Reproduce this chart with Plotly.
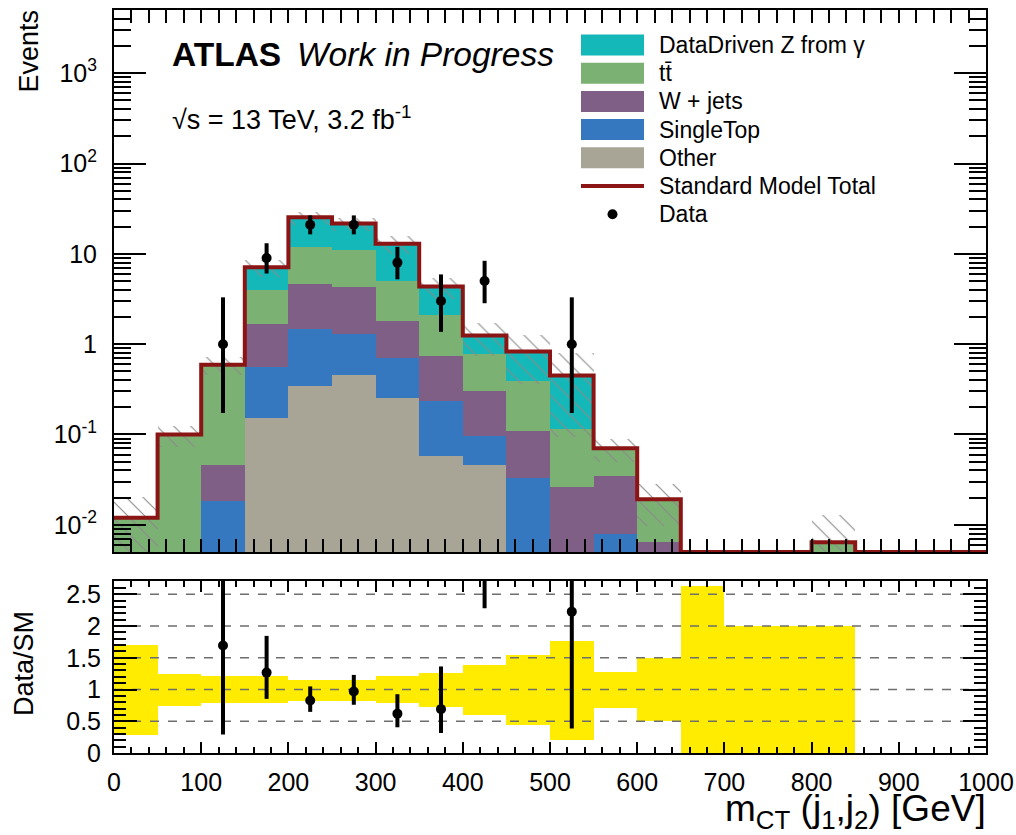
import numpy as np
import plotly.graph_objects as go

# ---------------------------------------------------------------------------
# m_CT(j1,j2) distribution, 50 GeV bins from 0 to 1000 GeV
# ---------------------------------------------------------------------------
bin_edges = np.arange(0, 1001, 50)
bin_centres = 0.5 * (bin_edges[:-1] + bin_edges[1:])

# Expected events per bin for each background (stacked bottom -> top)
other      = [0, 0, 0, 0.154, 0.348, 0.457, 0.256, 0.058, 0.046, 0,
              0, 0, 0, 0, 0, 0, 0, 0, 0, 0]
single_top = [0, 0, 0.0185, 0.411, 1.11, 0.843, 0.454, 0.177, 0.051, 0.0327,
              0, 0.0079, 0, 0, 0, 0, 0, 0, 0, 0]
w_jets     = [0, 0, 0.0275, 1.10, 3.23, 3.01, 1.10, 0.507, 0.209, 0.0753,
              0.0265, 0.0272, 0.0065, 0, 0, 0, 0, 0, 0, 0]
ttbar      = [0.012, 0.10, 0.544, 2.33, 7.21, 6.65, 3.25, 1.37, 0.467, 0.284,
              0.0885, 0.0354, 0.0127, 0, 0, 0, 0.0064, 0, 0, 0]
z_gamma    = [0, 0, 0, 3.11, 13.5, 10.7, 7.84, 2.23, 0.472, 0.436,
              0.334, 0, 0, 0, 0, 0, 0, 0, 0, 0]

# Observed events and their 68% Poisson interval
data    = [None, None, 1, 9, 21, 21, 8, 3, 5, None,
           1, None, None, None, None, None, None, None, None, None]
data_lo = [None, None, 0.173, 6.06, 16.46, 16.46, 5.23, 1.37, 2.84, None,
           0.173, None, None, None, None, None, None, None, None, None]
data_hi = [None, None, 3.30, 13.11, 26.65, 26.65, 11.95, 5.92, 8.38, None,
           3.30, None, None, None, None, None, None, None, None, None]

# Relative uncertainty on the SM total (lower / upper edge of the band)
unc_lo = [0.29, 0.735, 0.78, 0.78, 0.82, 0.82, 0.78, 0.725, 0.595, 0.44,
          0.21, 0.71, 0.50, 0.0, 0.0, 0.0, 0.0, None, None, None]
unc_hi = [1.70, 1.24, 1.21, 1.21, 1.155, 1.155, 1.21, 1.26, 1.38, 1.54,
          1.76, 1.27, 1.49, 2.63, 2.0, 2.0, 2.0, None, None, None]

# Axis tick values
decades = [0.01, 0.1, 1, 10, 100, 1000]
decade_labels = ["10<sup>-2</sup>", "10<sup>-1</sup>", "1", "10",
                 "10<sup>2</sup>", "10<sup>3</sup>"]
ratio_ticks = [0, 0.5, 1, 1.5, 2, 2.5]
ratio_labels = ["0", "0.5", "1", "1.5", "2", "2.5"]

# ---------------------------------------------------------------------------
W, H = 1016, 835
FONT = "Liberation Sans, Arial, Helvetica, sans-serif"

COL_Z = "#14b8b8"
COL_TT = "#7cb174"
COL_W = "#7f5f85"
COL_ST = "#3678c0"
COL_OTHER = "#a8a596"
COL_SM = "#8b1414"
COL_BAND = "#ffec00"

Y_MIN_LOG, Y_MAX_LOG = np.log10(0.005), 3.70


def px_x(p):
    return p / W


def px_y(p):
    return 1 - p / H


stack = np.array([other, single_top, w_jets, ttbar, z_gamma], dtype=float)
cumulative = np.cumsum(stack, axis=0)
total = cumulative[-1]

fig = go.Figure()

# stacked backgrounds drawn as overlaid cumulative bars (top layer first)
layers = [(cumulative[4], COL_Z), (cumulative[3], COL_TT), (cumulative[2], COL_W),
          (cumulative[1], COL_ST), (cumulative[0], COL_OTHER)]
for values, colour in layers:
    vals = [v if v > 0 else None for v in values]
    fig.add_trace(go.Bar(x=bin_centres, y=vals, width=50, marker_color=colour,
                         marker_line_width=0, opacity=1, xaxis="x", yaxis="y",
                         showlegend=False, hoverinfo="skip"))

# hatched SM uncertainty band
hb_base, hb_h, hb_x = [], [], []
for c, t, lo, hi in zip(bin_centres, total, unc_lo, unc_hi):
    if t > 0 and lo is not None:
        hb_x.append(c)
        hb_base.append(t * lo)
        hb_h.append(t * (hi - lo))
fig.add_trace(go.Bar(x=hb_x, y=hb_h, base=hb_base, width=50,
                     marker=dict(color="rgba(0,0,0,0)", line_width=0,
                                 pattern=dict(shape="\\", fgcolor="#8a8a8a",
                                              bgcolor="rgba(0,0,0,0)",
                                              size=12, solidity=0.09,
                                              fillmode="replace")),
                     xaxis="x", yaxis="y", showlegend=False, hoverinfo="skip"))

# SM total as a step line
floor = 10 ** Y_MIN_LOG
step_y = [t if t > 0 else floor for t in total]
step_y = step_y + [step_y[-1]]
fig.add_trace(go.Scatter(x=bin_edges, y=step_y, mode="lines", line_shape="hv",
                         line=dict(color=COL_SM, width=4), xaxis="x", yaxis="y",
                         showlegend=False, hoverinfo="skip"))

# data points
dx, dy, dep, dem = [], [], [], []
rx, ry, rep, rem = [], [], [], []
for c, n, lo, hi, t in zip(bin_centres, data, data_lo, data_hi, total):
    if n is None:
        continue
    dx.append(c)
    dy.append(n)
    dep.append(hi - n)
    dem.append(n - lo)
    rx.append(c)
    ry.append(n / t)
    rep.append((hi - n) / t)
    rem.append((n - lo) / t)

fig.add_trace(go.Scatter(x=dx, y=dy, mode="markers",
                         marker=dict(color="black", size=10),
                         error_y=dict(type="data", array=dep, arrayminus=dem,
                                      color="black", thickness=4, width=0),
                         xaxis="x", yaxis="y", showlegend=False, hoverinfo="skip"))

# ---------------- ratio panel ----------------
rb_x, rb_base, rb_h = [], [], []
for c, lo, hi in zip(bin_centres, unc_lo, unc_hi):
    if lo is not None:
        rb_x.append(c)
        rb_base.append(lo)
        rb_h.append(hi - lo)
fig.add_trace(go.Bar(x=rb_x, y=rb_h, base=rb_base, width=50,
                     marker_color=COL_BAND, marker_line_width=0, opacity=1,
                     xaxis="x2", yaxis="y2", showlegend=False, hoverinfo="skip"))

for level in ratio_ticks[1:]:
    fig.add_trace(go.Scatter(x=[0, 1000], y=[level, level], mode="lines",
                             line=dict(color="#6e6e6e", width=1.5, dash="dash"),
                             xaxis="x2", yaxis="y2", showlegend=False,
                             hoverinfo="skip"))

fig.add_trace(go.Scatter(x=rx, y=ry, mode="markers",
                         marker=dict(color="black", size=10),
                         error_y=dict(type="data", array=rep, arrayminus=rem,
                                      color="black", thickness=4, width=0),
                         xaxis="x2", yaxis="y2", showlegend=False, hoverinfo="skip"))

# ---------------- axes ----------------
x_dom = [px_x(114), px_x(986)]
main_dom = [px_y(552), px_y(10)]
ratio_dom = [px_y(753), px_y(581)]

common_x = dict(range=[0, 1000], domain=x_dom, showgrid=False, zeroline=False,
                automargin=False, layer="above traces",
                showline=True, linecolor="black", linewidth=2, mirror="allticks",
                ticks="inside", tickcolor="black", tickwidth=2, dtick=100, tick0=0,
                minor=dict(ticks="inside", ticklen=6, tickwidth=2, dtick=20,
                           tickcolor="black", showgrid=False))

# short ticks at every 1..9 x 10^k, long ticks (with labels) at the decades
log_ticks = [float(f"{m * 10.0 ** e:.6g}") for e in range(-3, 4) for m in range(1, 10)]
log_labels = [decade_labels[decades.index(v)] if v in decades else "" for v in log_ticks]

fig.update_layout(
    template="none",
    width=W, height=H, autosize=False, margin=dict(l=0, r=0, t=0, b=0, pad=0),
    paper_bgcolor="white", plot_bgcolor="white",
    barmode="overlay", bargap=0,
    font=dict(family=FONT, color="black", size=24),
    showlegend=False,
    xaxis=dict(**common_x, anchor="y", ticklen=13, showticklabels=False),
    yaxis=dict(type="log", range=[Y_MIN_LOG, Y_MAX_LOG], domain=main_dom,
               anchor="x", showgrid=False, zeroline=False, showline=True,
               automargin=False, layer="above traces",
               linecolor="black", linewidth=2, mirror="allticks",
               ticks="inside", ticklen=17, tickwidth=2, tickcolor="black",
               tickmode="array", tickvals=log_ticks, ticktext=log_labels,
               tickfont=dict(size=25), ticklabelstandoff=10),
    yaxis3=dict(type="log", range=[Y_MIN_LOG, Y_MAX_LOG], domain=main_dom,
                anchor="x", overlaying="y", side="left", showgrid=False,
                zeroline=False, showline=False, automargin=False,
                layer="above traces",
                mirror="allticks", ticks="inside", ticklen=32, tickwidth=2,
                tickcolor="black", tickmode="array", tickvals=decades,
                showticklabels=False),
    xaxis2=dict(**common_x, anchor="y2", ticklen=11, showticklabels=True,
                tickfont=dict(size=25), ticklabelstandoff=6),
    yaxis2=dict(range=[0, 2.71], domain=ratio_dom, anchor="x2", showgrid=False,
                automargin=False, layer="above traces",
                zeroline=False, showline=True, linecolor="black", linewidth=2,
                mirror="allticks", ticks="inside", ticklen=23, tickwidth=2,
                tickcolor="black", tickmode="array",
                tickvals=ratio_ticks, ticktext=ratio_labels,
                tickfont=dict(size=25), ticklabelstandoff=6,
                minor=dict(ticks="inside", ticklen=12, tickwidth=2, dtick=0.1,
                           tick0=0, tickcolor="black", showgrid=False)),
)

# invisible trace so the decade-tick axis is drawn
fig.add_trace(go.Scatter(x=[None], y=[None], xaxis="x", yaxis="y3",
                         showlegend=False, hoverinfo="skip"))


def note(x, y, text, size, xanchor="left", yanchor="middle", angle=0):
    return dict(x=px_x(x), y=px_y(y), xref="paper", yref="paper", text=text,
                font=dict(size=size), xanchor=xanchor, yanchor=yanchor,
                textangle=angle, showarrow=False)


annotations = [
    note(170, 55, "<b>ATLAS</b>", 33.5),
    note(295, 55, "<i>Work in Progress</i>", 33.5),
    note(170, 118, "√s = 13 TeV, 3.2 fb<sup>-1</sup>", 27),
    note(28, 8, "Events", 27, xanchor="center", yanchor="top", angle=-90),
    note(24, 664, "Data/SM", 27, xanchor="center", yanchor="middle", angle=-90),
    note(988, 836, "m<sub>CT</sub> (j<sub>1</sub>,j<sub>2</sub>) [GeV]", 37,
         xanchor="right", yanchor="bottom"),
]

# legend
legend_rows = [
    ("DataDriven Z from γ", "box", COL_Z),
    ("tt\u0304", "box", COL_TT),
    ("W + jets", "box", COL_W),
    ("SingleTop", "box", COL_ST),
    ("Other", "box", COL_OTHER),
    ("Standard Model Total", "line", COL_SM),
    ("Data", "dot", "black"),
]
shapes = []
row_y0, row_dy = 45, 28.2
for i, (label, kind, colour) in enumerate(legend_rows):
    yc = row_y0 + i * row_dy
    if kind == "box":
        shapes.append(dict(type="rect", xref="paper", yref="paper",
                           x0=px_x(581), x1=px_x(644), y0=px_y(yc + 10.5),
                           y1=px_y(yc - 10.5), fillcolor=colour, line_width=0))
    elif kind == "line":
        shapes.append(dict(type="line", xref="paper", yref="paper",
                           x0=px_x(581), x1=px_x(644), y0=px_y(yc), y1=px_y(yc),
                           line=dict(color=colour, width=4)))
    else:
        shapes.append(dict(type="circle", xref="paper", yref="paper",
                           x0=px_x(607.5), x1=px_x(617.5), y0=px_y(yc + 5),
                           y1=px_y(yc - 5), fillcolor=colour, line_width=0))
    annotations.append(note(657, yc, label, 23))

fig.update_layout(annotations=annotations, shapes=shapes)

fig.write_html("out.html")
